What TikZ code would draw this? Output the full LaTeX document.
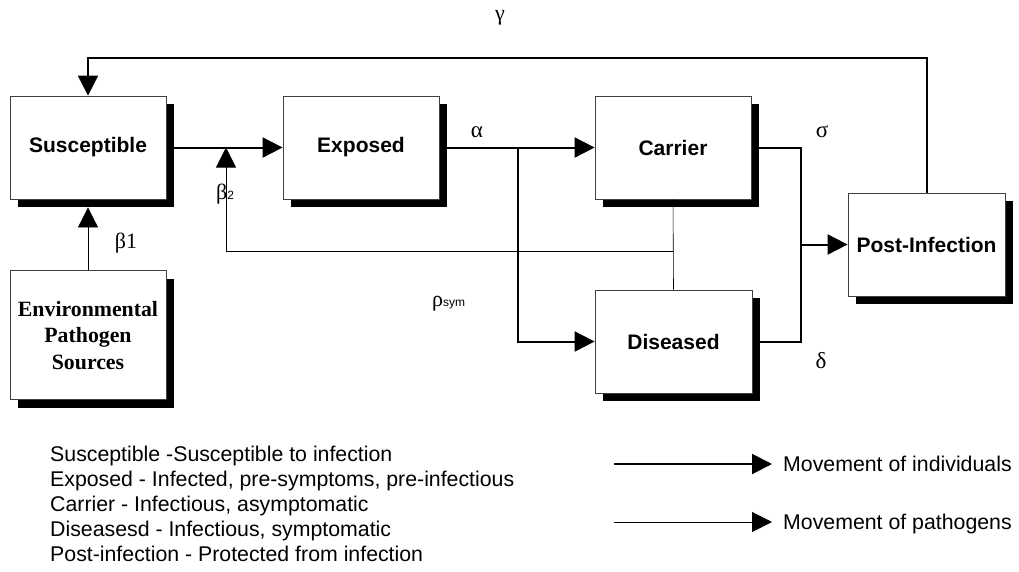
\documentclass[tikz,border=0pt]{standalone}
\usepackage{fontspec}
\setmainfont{Liberation Serif}
\setsansfont{Liberation Sans}
\usetikzlibrary{arrows.meta,shadows}
\begin{document}
\begin{tikzpicture}[x=1pt,y=-1pt,
  box/.style={draw=black!75, line width=0.8pt, fill=white, minimum width=156pt,
    minimum height=103pt, inner sep=0pt,
    drop shadow={shadow xshift=8pt, shadow yshift=-8pt, fill=black, opacity=1}},
  lbl/.style={font=\sffamily\bfseries\fontsize{21}{25}\selectfont},
  indiv/.style={line width=2pt},
  pathog/.style={line width=0.8pt},
  tip/.style={-{Triangle[length=20pt,width=20pt]}},
  greek/.style={font=\fontsize{22}{22}\selectfont, inner sep=0pt},
  greekb/.style={font=\fontsize{23}{23}\selectfont, inner sep=0pt},
  subs/.style={font=\sffamily\fontsize{12}{12}\selectfont},
  legend/.style={font=\sffamily\fontsize{21.3}{25}\selectfont, anchor=base west, inner sep=0pt}
]
\useasboundingbox (0,0) rectangle (1019,571);

% boxes
\node[box,lbl] (S) at (88,147.5) {Susceptible};
\node[box, minimum height=129pt, align=center,
  font=\bfseries\fontsize{21.8}{26.7}\selectfont] (EP) at (88,335.3) {Environmental\\Pathogen\\Sources};
\node[box,lbl] (X) at (361,147.5) {Exposed};
\node[box,lbl] (C) at (673,147.5) {Carrier};
\node[box,lbl,minimum width=157pt] (D) at (673.5,341.5) {Diseased};
\node[box,lbl,minimum width=157pt] (P) at (926.5,244.5) {Post-Infection};

% movement of individuals
\coordinate (a) at (518,147.5);
\coordinate (m) at (800.5,244.5);
\coordinate (g) at (926.5,58);
\draw[indiv,tip] ([xshift=8pt]S.east) -- (X.west);
\draw[indiv,tip] ([xshift=8pt]X.east) -- (C.west);
\draw[indiv,tip] (a) |- (D.west);
\draw[indiv] ([xshift=8pt]C.east) -| (m) |- ([xshift=8pt]D.east);
\draw[indiv,tip] (m) -- (P.west);
\draw[indiv,tip] (P.north) -- (g) -| (S.north);

% movement of pathogens
\coordinate (cd) at (673,251);
\coordinate (bt) at (226,147.5);
\draw[pathog,tip] (EP.north) -- ([yshift=-8pt]S.south);
\draw[line width=0.6pt] (C.south) -- (D.north);
\draw[pathog,tip] (cd) -| (bt);

% rate labels
\node[greek] (gam) at (500,18) {γ};
\node[greekb] (alp) at (477,132) {α};
\node[greekb] (sig) at (822,132) {σ};
\node[greekb] (del) at (821,361) {δ};
\node[greek] (b1) at (126,243) {β1};
\node[greek,anchor=west] (b2) at (216,194) {β\textsf{\fontsize{12}{12}\selectfont 2}};
\node[greek,anchor=west] (rho) at (432,304) {ρ\textsf{\fontsize{12}{12}\selectfont sym}};

% legend
\node[legend] (k1) at (50,461.5) {Susceptible -Susceptible to infection};
\node[legend] (k2) at (50,486.5) {Exposed - Infected, pre-symptoms, pre-infectious};
\node[legend] (k3) at (50,511.5) {Carrier - Infectious, asymptomatic};
\node[legend] (k4) at (50,536.5) {Diseasesd - Infectious, symptomatic};
\node[legend] (k5) at (50,561.5) {Post-infection - Protected from infection};

\coordinate (l1a) at (614,464);
\coordinate (l1b) at (772,464);
\coordinate (l2a) at (614,522);
\coordinate (l2b) at (772,522);
\draw[indiv,tip] (l1a) -- (l1b);
\draw[pathog,tip] (l2a) -- (l2b);
\node[legend] (m1) at (783,471.5) {Movement of individuals};
\node[legend] (m2) at (783,529.5) {Movement of pathogens};
\end{tikzpicture}
\end{document}
